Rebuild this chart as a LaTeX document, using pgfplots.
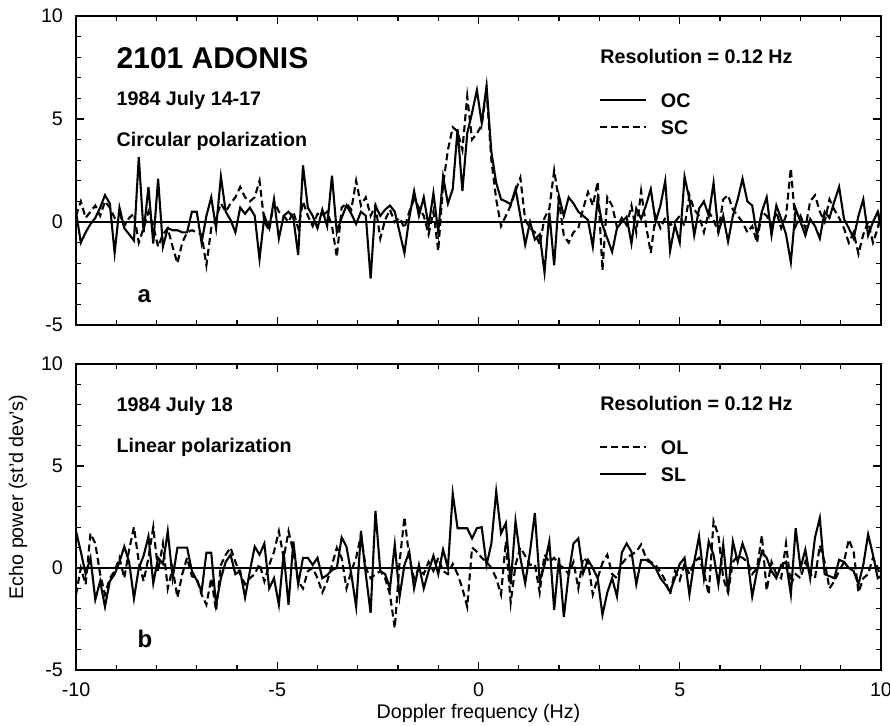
\documentclass[border=0pt]{standalone}
\usepackage{fontspec}
\setmainfont{Liberation Sans}
\usepackage{pgfplots}
\pgfplotsset{compat=1.18}
\usepackage{pgfplotstable}

\pgfplotstableread{
x oc sc
-10.00 0.5 0.3
-9.88 -1.0 1.0
-9.76 -0.5 0.2
-9.64 -0.1 0.5
-9.52 0.2 0.8
-9.40 0.7 0.3
-9.28 1.3 1.0
-9.16 0.9 0.7
-9.04 -1.5 0.2
-8.92 0.7 0.4
-8.80 -0.3 -0.2
-8.68 -0.6 0.2
-8.56 -0.9 0.4
-8.44 3.15 -1.0
-8.32 -0.5 -0.3
-8.20 1.7 0.5
-8.08 -1.05 -0.2
-7.96 2.1 -1.2
-7.84 -1.2 -0.6
-7.72 -0.3 -0.3
-7.60 -0.4 -1.2
-7.48 -0.4 -2.0
-7.36 -0.5 -1.0
-7.24 -0.5 -0.5
-7.12 0.5 -0.4
-7.00 0.5 -0.5
-6.88 -1.0 -0.6
-6.76 0.3 -2.1
-6.64 1.2 -0.3
-6.52 -0.3 0.2
-6.40 2.2 0.9
-6.28 0.5 0.5
-6.16 0.1 0.9
-6.04 -0.5 1.2
-5.92 0.7 1.7
-5.80 0.4 1.2
-5.68 0.7 1.0
-5.56 0.3 1.2
-5.44 -1.8 2.0
-5.32 0.3 0.0
-5.20 -0.3 -0.4
-5.08 1.1 1.0
-4.96 -0.8 0.5
-4.84 0.3 0.3
-4.72 0.5 0.0
-4.60 0.2 0.5
-4.48 -1.6 -0.3
-4.36 2.75 1.0
-4.24 0.7 0.3
-4.12 0.3 -0.2
-4.00 -0.3 0.4
-3.88 0.6 0.3
-3.76 -0.2 0.5
-3.64 2.25 -0.2
-3.52 -0.5 -1.7
-3.40 0.2 0.7
-3.28 0.8 0.9
-3.16 0.4 0.6
-3.04 -0.1 2.0
-2.92 0.5 0.8
-2.80 0.3 1.2
-2.68 -2.75 0.3
-2.56 0.8 0.8
-2.44 0.3 -0.8
-2.32 0.6 0.1
-2.20 0.8 0.6
-2.08 0.5 0.0
-1.96 -0.5 0.2
-1.84 -1.5 -0.3
-1.72 0.2 0.5
-1.60 1.5 1.1
-1.48 0.3 0.7
-1.36 1.2 0.3
-1.24 -0.2 -0.6
-1.12 1.4 0.5
-1.00 -0.5 -1.4
-0.88 2.2 1.8
-0.76 0.9 3.5
-0.64 1.6 4.6
-0.52 4.5 4.4
-0.40 1.5 3.5
-0.28 4.3 6.1
-0.16 5.3 4.0
-0.04 6.4 4.3
0.08 4.8 4.7
0.20 6.6 6.4
0.32 3.4 3.0
0.44 1.9 1.1
0.56 1.1 -0.2
0.68 1.0 0.3
0.80 0.85 0.8
0.92 1.6 1.5
1.04 0.3 2.15
1.16 -1.1 0.1
1.28 0.0 -0.3
1.40 -0.85 -0.5
1.52 -0.6 -1.1
1.64 -2.45 0.2
1.76 0.45 0.65
1.88 -2.1 2.5
2.00 1.25 1.0
2.12 0.3 -0.65
2.24 1.2 -1.0
2.36 0.9 -0.5
2.48 0.5 -0.3
2.60 0.3 0.65
2.72 0.1 1.45
2.84 -1.2 0.8
2.96 1.1 1.95
3.08 -0.15 -2.35
3.20 -0.8 1.2
3.32 -1.45 0.8
3.44 -0.3 -0.25
3.56 0.0 0.2
3.68 0.25 -0.15
3.80 -1.05 0.8
3.92 0.65 -0.5
4.04 0.15 1.5
4.16 0.8 -0.15
4.28 1.6 -1.5
4.40 0.0 0.3
4.52 0.8 -0.3
4.64 2.0 0.2
4.76 -1.4 -0.15
4.88 -0.15 0.0
5.00 -1.0 0.3
5.12 2.2 -0.2
5.24 1.1 1.3
5.36 -0.65 0.6
5.48 0.65 0.3
5.60 1.0 -0.5
5.72 0.3 0.5
5.84 1.9 0.1
5.96 -0.5 -0.5
6.08 0.3 1.1
6.20 -0.95 1.3
6.32 0.3 0.6
6.44 1.1 0.3
6.56 2.1 0.0
6.68 1.0 -0.5
6.80 0.8 -0.2
6.92 -0.65 -1.0
7.04 0.5 0.5
7.16 1.2 0.3
7.28 -0.65 -0.2
7.40 0.8 0.5
7.52 0.15 -0.3
7.64 -0.6 0.3
7.76 -1.95 2.6
7.88 0.65 -0.2
8.00 0.0 0.3
8.12 -0.65 -0.3
8.24 0.15 1.0
8.36 -0.2 1.3
8.48 -0.8 0.5
8.60 0.5 0.0
8.72 0.2 1.1
8.84 1.0 0.6
8.96 1.7 0.2
9.08 0.15 -0.3
9.20 -0.3 -1.0
9.32 -0.8 -0.5
9.44 0.3 -1.55
9.56 1.1 -0.6
9.68 -0.65 0.0
9.80 0.0 -1.0
9.92 0.5 -0.3
10.00 -0.3 0.5
}\circdata

\pgfplotstableread{
x ol sl
-10.00 -1.3 1.8
-9.88 0.0 0.8
-9.76 -0.8 -0.3
-9.64 1.7 0.5
-9.52 1.2 -1.55
-9.40 -0.3 -0.65
-9.28 -1.3 -1.9
-9.16 -0.5 -0.65
-9.04 -0.15 -0.3
-8.92 0.5 0.3
-8.80 -0.5 1.05
-8.68 0.9 0.3
-8.56 2.0 -1.5
-8.44 0.3 0.0
-8.32 -0.65 0.6
-8.20 0.5 1.55
-8.08 2.0 -0.75
-7.96 -0.15 0.5
-7.84 1.2 0.2
-7.72 -1.0 1.8
-7.60 0.0 -0.5
-7.48 -1.45 1.0
-7.36 -0.3 1.0
-7.24 0.5 1.0
-7.12 -0.4 -0.15
-7.00 -0.5 -0.6
-6.88 -1.3 -1.15
-6.76 -1.8 0.75
-6.64 -0.5 0.75
-6.52 -2.1 -1.8
-6.40 0.15 -0.5
-6.28 0.65 0.3
-6.16 1.0 0.65
-6.04 0.3 -0.3
-5.92 -0.3 -0.15
-5.80 -0.8 -1.45
-5.68 -0.5 -0.15
-5.56 -0.3 1.05
-5.44 0.2 0.65
-5.32 -0.65 1.2
-5.20 0.15 -1.0
-5.08 0.8 -0.5
-4.96 1.8 -1.8
-4.84 0.5 0.75
-4.72 1.8 -1.8
-4.60 0.8 1.3
-4.48 -0.65 -0.8
-4.36 -1.0 0.5
-4.24 -0.15 0.5
-4.12 0.0 0.15
-4.00 -0.5 0.5
-3.88 -1.2 -0.5
-3.76 -0.65 -0.35
-3.64 0.15 -0.1
-3.52 1.0 0.0
-3.40 0.5 1.5
-3.28 -1.0 1.05
-3.16 -0.15 -0.3
-3.04 0.5 -1.9
-2.92 1.6 1.8
-2.80 0.0 -0.3
-2.68 -0.5 -2.2
-2.56 -0.3 2.8
-2.44 -0.15 -0.15
-2.32 -0.5 -0.3
-2.20 -1.3 -1.0
-2.08 -2.95 1.15
-1.96 0.3 -1.4
-1.84 2.5 0.15
-1.72 0.5 0.8
-1.60 -0.5 -1.0
-1.48 0.0 0.15
-1.36 -0.3 -1.0
-1.24 0.3 -0.15
-1.12 -0.15 0.6
-1.00 0.5 -0.3
-0.88 -0.15 0.9
-0.76 -0.3 0.0
-0.64 0.2 3.65
-0.52 -0.3 1.95
-0.40 -1.0 1.95
-0.28 -1.9 1.95
-0.16 1.0 1.45
-0.04 0.8 1.95
0.08 0.5 2.0
0.20 0.3 0.15
0.32 0.0 1.2
0.44 -0.5 3.75
0.56 -1.3 1.7
0.68 1.3 2.2
0.80 -1.7 -0.8
0.92 0.15 2.3
1.04 1.0 0.5
1.16 0.6 -0.75
1.28 0.15 0.8
1.40 0.2 2.7
1.52 -1.2 -0.65
1.64 0.65 0.15
1.76 0.3 1.3
1.88 0.5 -2.05
2.00 0.15 0.5
2.12 0.0 -2.4
2.24 -0.3 -0.3
2.36 0.3 1.2
2.48 -1.0 1.45
2.60 0.5 -0.25
2.72 0.3 0.4
2.84 -1.3 0.0
2.96 -0.5 -0.5
3.08 0.25 -2.3
3.20 0.65 -1.2
3.32 -0.3 -0.5
3.44 -0.5 -1.4
3.56 0.2 0.75
3.68 0.5 1.2
3.80 0.65 0.8
3.92 0.8 -0.8
4.04 1.15 0.4
4.16 0.5 0.4
4.28 0.3 0.25
4.40 0.15 0.0
4.52 -0.2 -0.5
4.64 -0.6 -0.8
4.76 -1.3 -1.15
4.88 -0.15 -0.5
5.00 -0.6 0.2
5.12 0.2 0.5
5.24 -0.3 -1.3
5.36 0.3 0.3
5.48 0.5 1.55
5.60 -0.2 -0.5
5.72 -1.3 1.3
5.84 2.3 0.65
5.96 1.6 -0.8
6.08 -0.5 1.15
6.20 -1.2 -1.2
6.32 0.3 1.3
6.44 0.6 0.3
6.56 0.5 1.2
6.68 0.3 0.5
6.80 -0.3 -1.4
6.92 0.0 -0.15
7.04 1.6 0.8
7.16 -1.1 0.5
7.28 0.3 -0.15
7.40 -0.3 -0.5
7.52 -0.5 0.15
7.64 1.2 0.3
7.76 -0.8 -1.3
7.88 -0.3 1.95
8.00 -0.5 0.0
8.12 0.3 0.9
8.24 -0.3 -0.5
8.36 -0.5 1.5
8.48 1.1 2.45
8.60 0.3 -0.3
8.72 -1.0 -0.4
8.84 -0.65 -0.5
8.96 -0.15 0.4
9.08 0.3 0.3
9.20 1.4 0.0
9.32 0.8 -0.15
9.44 -1.2 -0.8
9.56 -0.5 0.15
9.68 -0.3 1.65
9.80 0.5 0.65
9.92 0.0 -0.5
10.00 -0.5 -0.4
}\lindata

\newcommand{\txt}{\fontsize{9.85}{11.8}\selectfont}

\tikzset{lab/.style={anchor=base west, inner sep=0pt, font=\txt\bfseries}}

\pgfplotsset{
  panel/.style={
    scale only axis,
    width=402.5pt,
    xmin=-10, xmax=10, ymin=-5, ymax=10,
    xtick={-10,-5,0,5,10},
    minor xtick={-9,-8,-7,-6,-4,-3,-2,-1,1,2,3,4,6,7,8,9},
    ytick={-5,0,5,10},
    minor ytick={-4,-3,-2,-1,1,2,3,4,6,7,8,9},
    yticklabels={-5,0,5,10},
    tick align=inside,
    major tick length=4pt,
    minor tick length=2.5pt,
    every tick/.style={black, line width=0.6pt},
    axis line style={line width=1.4pt},
    tick label style={font=\txt},
    yticklabel style={xshift=-3pt},
    legend cell align=left,
    legend style={draw=none, fill=none, font=\txt\bfseries,
      at={(axis cs:2.98,6.25)}, anchor=north west,
      inner sep=0pt, row sep=5.2pt, column sep=0pt,
      nodes={inner sep=0pt},
      /tikz/every odd column/.append style={column sep=6.7pt}},
    legend image code/.code={\draw[##1] (0pt,1pt) -- (23.3pt,1pt);},
  },
  oc/.style={black, line width=1.05pt},
  sc/.style={black, line width=1.05pt, dash pattern=on 3.5pt off 2pt},
}

\begin{document}
\begin{tikzpicture}
\useasboundingbox (-38pt,-27.5pt) rectangle (407pt,335pt);

% Panel a
\begin{axis}[panel, height=154.5pt, at={(0pt,172.5pt)}, anchor=south west,
  xticklabels={}]
\addplot[black, line width=1pt, forget plot] coordinates {(-10,0) (10,0)};
\addplot[oc] table[x=x, y=oc] {\circdata};
\addlegendentry{OC}
\addplot[sc] table[x=x, y=sc] {\circdata};
\addlegendentry{SC}
\node[lab, font=\fontsize{15}{18}\selectfont\bfseries] at (axis cs:-9,7.47) {2101 ADONIS};
\node[lab] at (axis cs:-9,5.64) {1984 July 14-17};
\node[lab] at (axis cs:-9,3.67) {Circular polarization};
\node[lab, font=\fontsize{12}{14}\selectfont\bfseries] at (axis cs:-8.48,-3.92) {a};
\node[lab] at (axis cs:3.02,7.68) {Resolution = 0.12 Hz};
\end{axis}

% Panel b
\begin{axis}[panel, height=153pt, at={(0pt,0pt)}, anchor=south west,
  xticklabels={-10,-5,0,5,10},
  xticklabel style={yshift=-3pt},
  xlabel={Doppler frequency (Hz)},
  xlabel style={font=\txt, at={(axis description cs:0.5,-0.157)}, anchor=base},
  ylabel={Echo power (st'd dev's)},
  ylabel style={font=\txt, at={(axis description cs:-0.072,0.565)}, anchor=center}]
\addplot[black, line width=1pt, forget plot] coordinates {(-10,0) (10,0)};
\addplot[sc] table[x=x, y=ol] {\lindata};
\addlegendentry{OL}
\addplot[oc] table[x=x, y=sl] {\lindata};
\addlegendentry{SL}
\node[lab] at (axis cs:-9,7.66) {1984 July 18};
\node[lab] at (axis cs:-9,5.65) {Linear polarization};
\node[lab, font=\fontsize{12}{14}\selectfont\bfseries] at (axis cs:-8.48,-3.92) {b};
\node[lab] at (axis cs:3.02,7.71) {Resolution = 0.12 Hz};
\end{axis}
\end{tikzpicture}
\end{document}
